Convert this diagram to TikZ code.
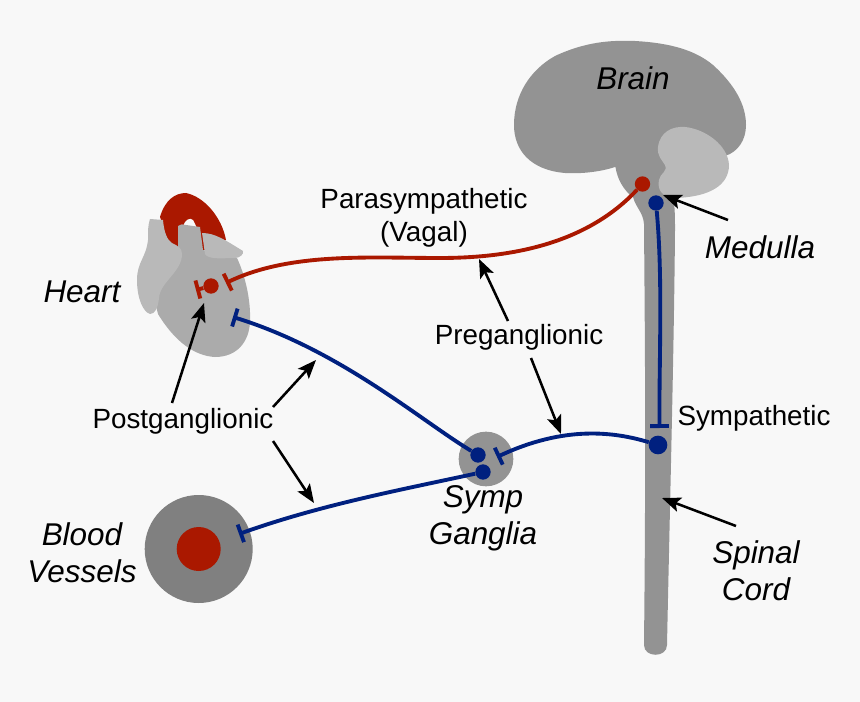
\documentclass[tikz,border=0pt]{standalone}
\usepackage{fontspec}
\setmainfont{Liberation Sans}
\usetikzlibrary{arrows.meta}
\definecolor{bgc}{HTML}{F8F8F8}
\definecolor{dkg}{HTML}{939393}
\definecolor{ltg}{HTML}{B9B9B9}
\definecolor{midg}{HTML}{ABABAB}
\definecolor{vesg}{HTML}{808080}
\definecolor{nred}{HTML}{AA1800}
\definecolor{nblue}{HTML}{00207F}
\tikzset{
  lab/.style={font=\fontsize{20.85}{25}\selectfont,text=black,inner sep=0pt,align=center},
  ital/.style={lab,font=\fontsize{23.6}{28}\selectfont\itshape},
  nerve/.style={line width=2.9pt},
  redn/.style={nerve,draw=nred},
  bluen/.style={nerve,draw=nblue},
  bar/.style={-{Bar[width=14pt,line width=2.9pt]}},
  dotr/.style={circle,fill=nred,inner sep=0pt,minimum size=11.5pt},
  dotb/.style={circle,fill=nblue,inner sep=0pt,minimum size=11.5pt},
  point/.style={draw=black,line width=1.9pt,-{Stealth[length=14pt,width=11pt,inset=3pt]}}
}
\begin{document}
\begin{tikzpicture}[x=0.75pt,y=-0.75pt]
\useasboundingbox (0,0) rectangle (860,702);
\fill[bgc] (0,0) rectangle (860,702);
% spinal cord and stem
\fill[dkg] (615,160) .. controls (615,178) and (625,192) .. (633,197)
  .. controls (636,208) and (643,212) .. (644,224)
  .. controls (645,350) and (646,450) .. (644,645)
  .. controls (644,658) and (667,658) .. (667,645)
  .. controls (670,500) and (674,350) .. (675,230)
  .. controls (675,215) and (675,205) .. (672,190) -- (660,150) -- cycle;
% brain
\fill[dkg] (615,167) .. controls (600,172) and (580,174) .. (565,173)
  .. controls (530,170) and (514,150) .. (514,125)
  .. controls (514,95) and (530,70) .. (555,56)
  .. controls (585,42) and (610,40) .. (635,41)
  .. controls (670,43) and (695,50) .. (713,65)
  .. controls (735,85) and (746,105) .. (746,125)
  .. controls (746,140) and (738,152) .. (725,156)
  -- (660,190) -- cycle;
% cerebellum
\fill[ltg] (658,147) .. controls (660,132) and (672,126) .. (685,127)
  .. controls (705,129) and (728,145) .. (729,165)
  .. controls (729,185) and (710,197) .. (675,198)
  .. controls (662,197) and (657,190) .. (659,180)
  .. controls (660,173) and (668,172) .. (665,165)
  .. controls (662,160) and (657,156) .. (658,147) -- cycle;
% heart: aorta
\fill[nred] (160,217) .. controls (165,200) and (175,193) .. (186,193)
  .. controls (205,197) and (222,218) .. (226,240) -- (205,250) -- (175,250)
  -- (168,240) .. controls (164,232) and (163,225) .. (160,217) -- cycle;
\fill[bgc] (183,226) .. controls (185,220) and (190,217) .. (193,220) .. controls (195,223) and (196,226) .. (197,229) -- (184,230) -- cycle;
% heart: main body
\fill[midg] (178,226) .. controls (180,224) and (183,224) .. (186,225) -- (200,227) -- (203,250) -- (237,258)
  .. controls (245,275) and (251,300) .. (250,322)
  .. controls (249,342) and (237,357) .. (215,357)
  .. controls (195,356) and (175,342) .. (158,314)
  -- (150,280) -- (178,250) -- cycle;
% heart: atrium
\fill[ltg] (150,219) -- (163,220) .. controls (164,232) and (167,240) .. (172,243)
  .. controls (178,246) and (182,248) .. (182,254)
  .. controls (182,272) and (160,282) .. (159,298)
  .. controls (158,308) and (155,314) .. (150,314)
  .. controls (143,312) and (137,298) .. (137,280)
  .. controls (137,262) and (146,258) .. (148,240)
  .. controls (148,230) and (148,225) .. (150,219) -- cycle;
\fill[ltg] (202,233) .. controls (215,233) and (225,240) .. (243,251)
  .. controls (244,254) and (240,258) .. (235,258)
  .. controls (225,258) and (208,260) .. (205,254) -- cycle;
% blood vessel
\fill[vesg] (198.7,549) circle[radius=40.5pt];
\node[circle,fill=nred,inner sep=0pt,minimum size=33pt] (vessel) at (198.7,549) {};
% ganglion
\fill[dkg] (486,459) circle[radius=20.5pt];
% synapse dots
\node[dotr] (brainred) at (642.5,184) {};
\node[dotb] (medblue) at (656,203) {};
\node[dotb,minimum size=14pt] (cordblue) at (658,445) {};
\node[dotb] (gangA) at (478,455) {};
\node[dotb] (gangB) at (483,472) {};
\node[dotr] (heartred) at (211,286) {};
\coordinate (vagalbar) at (226,283);
\coordinate (hpostbar) at (196,290);
\coordinate (heartblue) at (233,317);
\coordinate (gangbar) at (497,457);
\coordinate (vesselbar) at (239,534);
\coordinate (cordbar) at (659.5,428);
% nerves
\draw[redn,bar] (brainred) .. controls (590,240) and (520,258) .. (440,258)
  .. controls (370,258) and (290,252) .. (vagalbar);
\draw[redn,bar] (heartred) -- (hpostbar);
\draw[bluen,bar] (medblue) .. controls (663,280) and (659,360) .. (cordbar);
\draw[bluen,bar] (cordblue) .. controls (615,432) and (565,425) .. (gangbar);
\draw[bluen,bar] (gangA) .. controls (420,420) and (340,350) .. (heartblue);
\draw[bluen,bar] (gangB) .. controls (400,490) and (320,505) .. (vesselbar);
% texts
\node[ital] (tbrain) at (633,78) {Brain};
\node[ital] (tmed) at (760,247) {Medulla};
\node[ital] (theart) at (82,292) {Heart};
\node[ital] (tblood) at (82,553) {Blood\\Vessels};
\node[ital] (tsymp) at (483,518) {Symp\\Ganglia};
\node[ital] (tcord) at (756,571) {Spinal\\Cord};
\node[lab] (tpara) at (424,217.5) {Parasympathetic\\(Vagal)};
\node[lab] (tpre) at (519,337) {Preganglionic};
\node[lab] (tpost) at (183,421) {Postganglionic};
\node[lab] (tsym) at (754,418) {Sympathetic};
% pointers
\coordinate (pmed) at (663,195);
\coordinate (pcord) at (662,498);
\coordinate (ppara) at (479,259);
\coordinate (pspin) at (561,434);
\coordinate (pheart) at (204,303);
\coordinate (pup) at (316,360);
\coordinate (pdown) at (314,503);
\draw[point] (728,220) -- (pmed);
\draw[point] (736,526) -- (pcord);
\draw[point] (508,321) -- (ppara);
\draw[point] (531,358) -- (pspin);
\draw[point] (172,403) -- (pheart);
\draw[point] (273,407) -- (pup);
\draw[point] (273,441) -- (pdown);
\end{tikzpicture}
\end{document}
